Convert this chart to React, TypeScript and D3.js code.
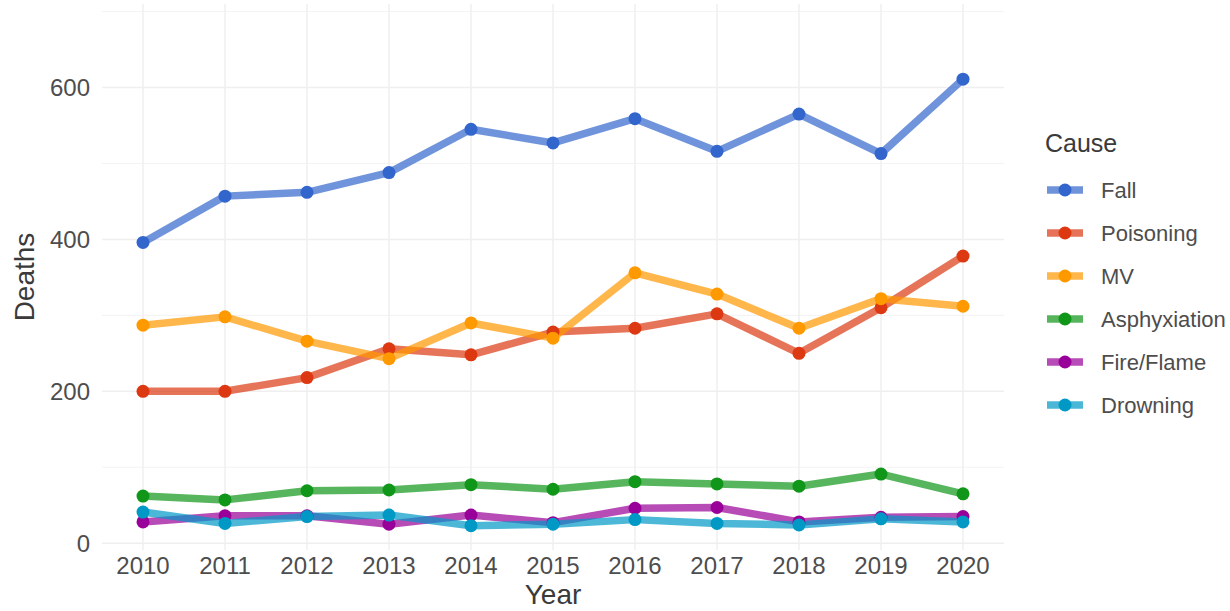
import { useEffect, useRef } from 'react';
import * as d3 from 'd3';

const years = [2010, 2011, 2012, 2013, 2014, 2015, 2016, 2017, 2018, 2019, 2020];
const causes = ['Fall', 'Poisoning', 'MV', 'Asphyxiation', 'Fire/Flame', 'Drowning'];
const colors = ['#3366cc', '#dc3912', '#ff9900', '#109618', '#990099', '#0099c6'];

const fall = [396, 457, 462, 488, 545, 527, 559, 516, 565, 513, 611];
const poisoning = [200, 200, 218, 256, 248, 278, 283, 302, 250, 310, 378];
const mv = [287, 298, 266, 243, 290, 270, 356, 328, 283, 322, 312];
const asphyxiation = [62, 57, 69, 70, 77, 71, 81, 78, 75, 91, 65];
const fireFlame = [28, 36, 36, 25, 37, 27, 46, 47, 28, 34, 35];
const drowning = [41, 26, 35, 37, 23, 25, 31, 26, 24, 32, 28];

const yMajor = [0, 200, 400, 600];
const yMinor = [100, 300, 500, 700];

const WIDTH = 1230;
const HEIGHT = 611;
const FONT = '"Liberation Sans", Arial, Helvetica, sans-serif';

export default function App() {
  const svgRef = useRef<SVGSVGElement>(null);

  useEffect(() => {
    if (!svgRef.current) return;
    const svg = d3.select(svgRef.current);
    svg.selectAll('*').remove();

    const panel = { left: 102, right: 1004, top: 4, bottom: 550 };

    const x = d3.scaleLinear().domain([2009.5, 2020.5]).range([panel.left, panel.right]);
    const y = d3.scaleLinear().domain([-9, 710]).range([panel.bottom, panel.top]);

    const series = [fall, poisoning, mv, asphyxiation, fireFlame, drowning].map((vals, i) => ({
      name: causes[i],
      color: colors[i],
      points: vals.map((v, j) => ({ year: years[j], value: v })),
    }));

    svg.append('rect').attr('width', WIDTH).attr('height', HEIGHT).attr('fill', '#ffffff');

    // grid (theme_minimal style, very faint)
    const grid = svg.append('g');
    grid.selectAll('line.minor')
      .data(yMinor)
      .join('line')
      .attr('x1', panel.left).attr('x2', panel.right)
      .attr('y1', d => y(d)).attr('y2', d => y(d))
      .attr('stroke', '#f3f3f3').attr('stroke-width', 1);
    grid.selectAll('line.major')
      .data(yMajor)
      .join('line')
      .attr('x1', panel.left).attr('x2', panel.right)
      .attr('y1', d => y(d)).attr('y2', d => y(d))
      .attr('stroke', '#efefef').attr('stroke-width', 1.5);
    grid.selectAll('line.vert')
      .data(years)
      .join('line')
      .attr('x1', d => x(d)).attr('x2', d => x(d))
      .attr('y1', panel.top).attr('y2', panel.bottom)
      .attr('stroke', '#efefef').attr('stroke-width', 1.5);

    // lines
    const line = d3.line<{ year: number; value: number }>()
      .x(d => x(d.year))
      .y(d => y(d.value));

    svg.append('g')
      .selectAll('path')
      .data(series)
      .join('path')
      .attr('d', d => line(d.points))
      .attr('fill', 'none')
      .attr('stroke', d => d.color)
      .attr('stroke-width', 7.5)
      .attr('stroke-linejoin', 'round')
      .attr('opacity', 0.7);

    // points
    const pts = svg.append('g');
    series.forEach(s => {
      pts.selectAll(null)
        .data(s.points)
        .join('circle')
        .attr('cx', d => x(d.year))
        .attr('cy', d => y(d.value))
        .attr('r', 6.5)
        .attr('fill', s.color);
    });

    // y axis labels
    svg.append('g')
      .selectAll('text')
      .data(yMajor)
      .join('text')
      .attr('x', 90)
      .attr('y', d => y(d))
      .attr('dy', '0.36em')
      .attr('text-anchor', 'end')
      .attr('fill', '#4d4d4d')
      .attr('font-family', FONT)
      .attr('font-size', '24px')
      .text(d => d);

    // x axis labels
    svg.append('g')
      .selectAll('text')
      .data(years)
      .join('text')
      .attr('x', d => x(d))
      .attr('y', 574)
      .attr('text-anchor', 'middle')
      .attr('fill', '#4d4d4d')
      .attr('font-family', FONT)
      .attr('font-size', '24px')
      .text(d => d);

    // axis titles
    svg.append('text')
      .attr('x', (panel.left + panel.right) / 2)
      .attr('y', 604)
      .attr('text-anchor', 'middle')
      .attr('fill', '#3a3a3a')
      .attr('font-family', FONT)
      .attr('font-size', '28px')
      .text('Year');

    svg.append('text')
      .attr('transform', `translate(34,${(panel.top + panel.bottom) / 2}) rotate(-90)`)
      .attr('text-anchor', 'middle')
      .attr('fill', '#3a3a3a')
      .attr('font-family', FONT)
      .attr('font-size', '28px')
      .text('Deaths');

    // legend
    const legend = svg.append('g');
    legend.append('text')
      .attr('x', 1045)
      .attr('y', 152)
      .attr('fill', '#3a3a3a')
      .attr('font-family', FONT)
      .attr('font-size', '25px')
      .text('Cause');

    const keyY = d3.scalePoint<string>().domain(causes).range([190, 405]);
    const keys = legend.selectAll('g.key')
      .data(series)
      .join('g')
      .attr('transform', d => `translate(0,${keyY(d.name)})`);
    keys.append('line')
      .attr('x1', 1047).attr('x2', 1083)
      .attr('stroke', d => d.color)
      .attr('stroke-width', 7.5)
      .attr('opacity', 0.7);
    keys.append('circle')
      .attr('cx', 1065)
      .attr('r', 6.5)
      .attr('fill', d => d.color);
    keys.append('text')
      .attr('x', 1101)
      .attr('dy', '0.36em')
      .attr('fill', '#4d4d4d')
      .attr('font-family', FONT)
      .attr('font-size', '22px')
      .text(d => d.name);
  }, []);

  return (
    <svg
      ref={svgRef}
      width={WIDTH}
      height={HEIGHT}
      style={{ position: 'absolute', left: 0, top: 0, display: 'block' }}
    />
  );
}
